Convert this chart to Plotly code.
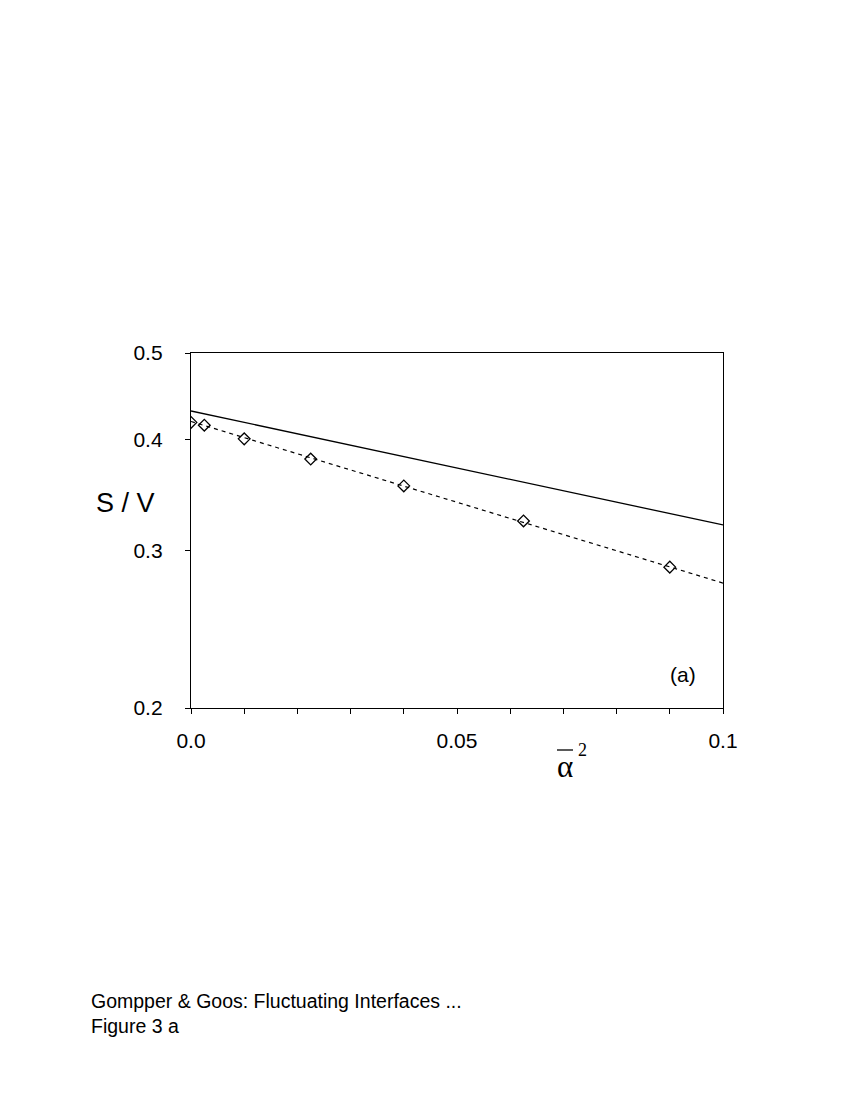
import math
import plotly.graph_objects as go

# data
alpha2 = [0.0, 0.0025, 0.01, 0.0225, 0.04, 0.0625, 0.09]
sv_points = [0.418, 0.415, 0.4006, 0.3803, 0.3548, 0.3241, 0.2877]
fit_x = [0.0, 0.1]
fit_dashed = [0.419, 0.2761]
theory_x = [0.0, 0.1]
theory_solid = [0.4305, 0.3208]
y_ticks = [0.2, 0.3, 0.4, 0.5]
y_ticktext = ["0.2", "0.3", "0.4", "0.5"]
x_ticks = [0.0, 0.05, 0.1]
x_ticktext = ["0.0", "0.05", "0.1"]

FONT = "Liberation Sans, Arial, sans-serif"
SERIF = "Liberation Serif, Times New Roman, serif"

# page body has an 8px margin in the rendered html
OFF = 8
L, R, T, B = 191, 723, 353, 708
W, H = 853, 1103

fig = go.Figure()
fig.add_trace(go.Scatter(x=theory_x, y=theory_solid, mode="lines",
                         line=dict(color="black", width=1.3), showlegend=False))
fig.add_trace(go.Scatter(x=fit_x, y=fit_dashed, mode="lines",
                         line=dict(color="black", width=1.2, dash="4px,4px"), showlegend=False))
fig.add_trace(go.Scatter(x=alpha2, y=sv_points, mode="markers",
                         marker=dict(symbol="diamond-open", size=9, color="black",
                                     line=dict(width=1.3, color="black")),
                         showlegend=False))

fig.update_layout(
    width=W, height=H, autosize=False,
    margin=dict(l=L - OFF, r=W - (R - OFF), t=T - OFF, b=H - (B - OFF)),
    paper_bgcolor="white", plot_bgcolor="white",
    font=dict(family=FONT, color="black"),
)

fig.update_xaxes(range=[0, 0.1], showline=True, linecolor="black", linewidth=1.3,
                 mirror=True, showgrid=False, zeroline=False,
                 tickvals=x_ticks, ticktext=x_ticktext, ticks="outside", ticklen=5,
                 tickcolor="black", tickfont=dict(size=21, family=FONT),
                 ticklabelstandoff=9,
                 minor=dict(tick0=0, dtick=0.01, ticks="outside", ticklen=5, tickcolor="black",
                            showgrid=False))
fig.update_yaxes(type="log", range=[math.log10(0.2), math.log10(0.5)],
                 showline=True, linecolor="black", linewidth=1.3,
                 mirror=True, showgrid=False, zeroline=False,
                 tickvals=y_ticks, ticktext=y_ticktext, ticks="outside", ticklen=5,
                 tickcolor="black", tickfont=dict(size=21, family=FONT),
                 ticklabelstandoff=18)

PW, PH = R - L, B - T
def px(xp):
    return (xp - L) / PW
def py(yp):
    return (B - yp) / PH

def label(text, xp, yp, size, family, xanchor="center"):
    fig.add_annotation(text=text, x=px(xp), y=py(yp), xref="paper", yref="paper",
                       xanchor=xanchor, yanchor="middle", align="left",
                       showarrow=False, font=dict(size=size, family=family))

label("S / V", 125, 503, 27, FONT)
label("(a)", 683, 674, 21, FONT)
label("α", 565, 766, 31, SERIF)
label("2", 582, 750, 18, SERIF)
fig.add_shape(type="line", xref="paper", yref="paper",
              x0=px(557), x1=px(573), y0=py(750), y1=py(750),
              line=dict(color="black", width=1.3))
label("Gompper & Goos: Fluctuating Interfaces ...<br>Figure 3 a", 89, 1013, 19.5, FONT,
      xanchor="left")

fig.write_html("out.html")
